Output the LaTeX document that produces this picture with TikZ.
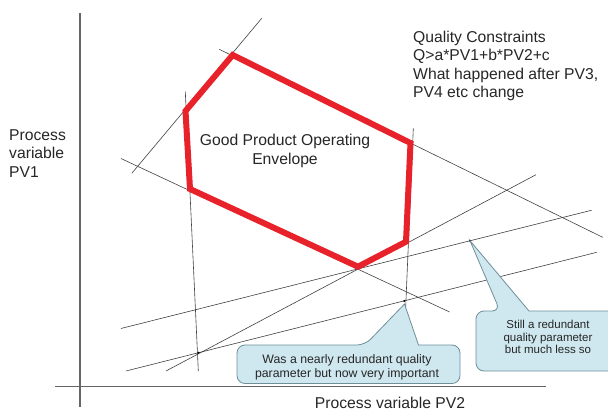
\documentclass[tikz,border=0pt]{standalone}
\usepackage{fontspec}
\setmainfont{Liberation Sans}
\definecolor{envred}{HTML}{E8222A}
\definecolor{calloutfill}{HTML}{CFE8EF}
\definecolor{calloutedge}{HTML}{6E8F99}
\definecolor{inkgray}{HTML}{262626}
\begin{document}
\begin{tikzpicture}[x=1pt,y=-1pt,
  guide/.style={draw=black!75, line width=0.6pt},
  axis/.style={draw=black!60, line width=1.1pt},
  envelope/.style={draw=envred, line width=6pt, line join=miter},
  label/.style={inner sep=0pt, text=inkgray, font=\fontsize{15.7}{18.3}\selectfont},
  callout/.style={draw=calloutedge, fill=calloutfill, line width=0.8pt},
  note/.style={inner sep=0pt, text=inkgray, align=center},
  hit/.style={fill=black}
]
\useasboundingbox (0,0) rectangle (608,412);

% axes
\coordinate (ytop) at (80,13.3);
\coordinate (ybot) at (80,406.7);
\coordinate (xleft) at (55,386.7);
\coordinate (xright) at (546,386.7);
\draw[axis] (ybot) -- (ytop);
\draw[axis] (xleft) -- (xright);

% constraint lines
\coordinate (l1a) at (131.8,173.3);  \coordinate (l1b) at (261.7,18.3);
\coordinate (l2a) at (185.3,91.7);   \coordinate (l2b) at (198.3,371);
\coordinate (l3a) at (120.9,158.5);  \coordinate (l3b) at (449.6,312);
\coordinate (l4a) at (413.3,128.3);  \coordinate (l4b) at (404,346.5);
\coordinate (l5a) at (219.3,49.3);   \coordinate (l5b) at (602.7,237.3);
\coordinate (l6a) at (166,371);      \coordinate (l6b) at (536,174.7);
\coordinate (l7a) at (120.9,328.5);  \coordinate (l7b) at (591.7,210.2);
\coordinate (l8a) at (126,371);      \coordinate (l8b) at (596.7,252.3);
\foreach \i in {1,...,8} \draw[guide] (l\i a) -- (l\i b);

% operating envelope
\coordinate (pa) at (232.7,55);
\coordinate (pb) at (185.5,111);
\coordinate (pc) at (190,189);
\coordinate (pd) at (358,266.7);
\coordinate (pe) at (406,241.7);
\coordinate (pf) at (410.5,143);
\draw[envelope] (pa) -- (pb) -- (pc) -- (pd) -- (pe) -- (pf) -- cycle;

% labels
\node[label, anchor=west, align=left] (pv1) at (9,153.4)
  {Process\\variable\\PV1};
\node[label] (pv2) at (390,403.2) {Process variable PV2};
\node[label, anchor=west, align=left] (qc) at (413,66)
  {Quality Constraints\\Q>a*PV1+b*PV2+c\\What happened after PV3,\\PV4 etc change};
\node[label, align=center, font=\fontsize{15.7}{19}\selectfont] (env) at (285,151.2)
  {Good Product Operating\\Envelope};

% intersection points picked out by the notes
\coordinate (n1tip) at (404.3,301);
\coordinate (n2tip) at (470,240.7);
\coordinate (triple) at (198.4,352.7);
\fill[hit] (n1tip) circle (1.1);
\fill[hit] (n2tip) circle (1.1);
\fill[hit] (triple) circle (1.1);

% note 1
\coordinate (n1a) at (365,345);
\coordinate (n1b) at (418.5,345);
\draw[callout] (348,383.5) [rounded corners=8pt] -- (237,383.5) -- (237,345) -- (n1a)
  [sharp corners] -- (404.5,304) -- (n1b) [rounded corners=8pt] -- (460,345) -- (460,383.5) -- cycle;
\node[note, font=\fontsize{12.3}{13.4}\selectfont] (note1) at (347,367.3)
  {Was a nearly redundant quality\\parameter but now very important};

% note 2
\coordinate (n2a) at (500,311);
\coordinate (n2b) at (529,311);
\draw[callout] (550,371) [rounded corners=8pt] -- (476,371) -- (476,311) -- (n2a)
  [sharp corners] -- (n2tip) -- (n2b) [rounded corners=8pt] -- (625,311) -- (625,371) -- cycle;
\node[note, font=\fontsize{11.5}{12.7}\selectfont] (note2) at (548,337)
  {Still a redundant\\quality parameter\\but much less so};
\end{tikzpicture}
\end{document}
